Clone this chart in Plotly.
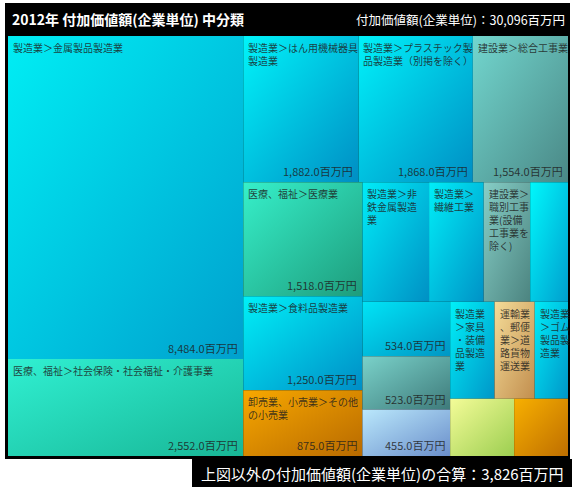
import plotly.graph_objects as go

# 2012年 付加価値額(企業単位) 中分類 — 上位20分類（百万円）
names = [
    "製造業＞金属製品製造業",
    "医療、福祉＞社会保険・社会福祉・介護事業",
    "製造業＞はん用機械器具<br>製造業",
    "製造業＞プラスチック製<br>品製造業（別掲を除く）",
    "建設業＞総合工事業",
    "医療、福祉＞医療業",
    "製造業＞食料品製造業",
    "卸売業、小売業＞その他<br>の小売業",
    "製造業＞非<br>鉄金属製造<br>業",
    "製造業＞<br>繊維工業",
    "建設業＞<br>職別工事<br>業(設備<br>工事業を<br>除く)",
    "",
    "",
    "",
    "",
    "製造業<br>＞家具<br>・装備<br>品製造<br>業",
    "運輸業<br>、郵便<br>業＞道<br>路貨物<br>運送業",
    "製造業<br>＞ゴム<br>製品製<br>造業",
    "",
    "",
]
values = [8484, 2552, 1882, 1868, 1554, 1518, 1250, 875,
          890, 730, 620, 505, 534, 523, 455, 480, 435, 360, 410, 345]
grand_total = 30096

# light (top-left) / dark (bottom-right) colour of each tile
light = ["#00EEF4", "#30F0D2", "#00F4FA", "#00F2FA", "#72D6CE", "#36F0CA",
         "#00F0F8", "#F8A800", "#00ECF8", "#00EEF8", "#86CEC6", "#00F8FC",
         "#00E4F6", "#7AD2CA", "#BAE8FC", "#00F0F8", "#F4DC98", "#00ECF8",
         "#F4FC98", "#F8B000"]
dark = ["#00A0CE", "#18B696", "#008EC4", "#008EC4", "#4A8886", "#1E9C7C",
        "#008EC6", "#B86A00", "#0090C4", "#0092C6", "#4C8480", "#009ECE",
        "#0096C4", "#3E7A7A", "#6A8ECA", "#0096C8", "#C28E4E", "#0096C8",
        "#9CCE50", "#BE6E00"]

# number of tiles laid along each strip of the squarified layout
strip_sizes = [2, 3, 3, 4, 3, 3, 1, 1]

W, H = 572, 487
AREA = (8, 36, 568, 456)  # x0, y0, x1, y1 of the tiled region
FONT = "Noto Sans CJK JP"


def layout_strips(vals, sizes, x0, y0, x1, y1):
    rects = []
    remaining = float(sum(vals))
    i = 0
    for n in sizes:
        group = vals[i:i + n]
        s = float(sum(group))
        dx, dy = x1 - x0, y1 - y0
        if dx < dy:  # row across the top edge
            h = dy * s / remaining
            cx = x0
            for v in group:
                w = dx * v / s
                rects.append((cx, y0, cx + w, y0 + h))
                cx += w
            y0 += h
        else:  # column down the left edge
            w = dx * s / remaining
            cy = y0
            for v in group:
                h = dy * v / s
                rects.append((x0, cy, x0 + w, cy + h))
                cy += h
            x0 += w
        remaining -= s
        i += n
    return rects


rects = layout_strips(values, strip_sizes, *AREA)

fig = go.Figure()
annotations = []
for name, v, c0, c1, (x0, y0, x1, y1) in zip(names, values, light, dark, rects):
    fig.add_trace(go.Scatter(
        x=[x0, x1, x1, x0, x0], y=[y0, y0, y1, y1, y0],
        mode="lines", fill="toself",
        fillgradient=dict(type="horizontal", colorscale=[[0, c1], [1, c0]]),
        line=dict(width=0),
        hoverinfo="text",
        text=f"{name.replace('<br>', '')} {v:,.1f}百万円",
        showlegend=False,
    ))
    if name:
        annotations.append(dict(
            x=x0 + 3, y=y0 + 2, xref="x", yref="y",
            xanchor="left", yanchor="top", align="left",
            text=name, showarrow=False,
            font=dict(family=FONT, size=10, color="rgba(30,30,30,0.85)"),
        ))
    if (x1 - x0) >= 72 and (y1 - y0) >= 30:
        annotations.append(dict(
            x=x1 - 3, y=y1 - 1, xref="x", yref="y",
            xanchor="right", yanchor="bottom",
            text=f"{v:,.1f}百万円", showarrow=False,
            font=dict(family=FONT, size=11, color="rgba(30,30,30,0.85)"),
        ))

others = grand_total - sum(values)

annotations += [
    dict(x=10, y=19, xref="x", yref="y", xanchor="left", yanchor="middle",
         text="<b>2012年 付加価値額(企業単位) 中分類</b>", showarrow=False,
         font=dict(family=FONT, size=14, color="white")),
    dict(x=567, y=19, xref="x", yref="y", xanchor="right", yanchor="middle",
         text=f"付加価値額(企業単位)：{grand_total:,}百万円", showarrow=False,
         font=dict(family=FONT, size=12.5, color="white")),
    dict(x=566, y=473, xref="x", yref="y", xanchor="right", yanchor="middle",
         text=f"上図以外の付加価値額(企業単位)の合算：{others:,}百万円", showarrow=False,
         font=dict(family=FONT, size=15, color="white")),
]

shapes = [
    dict(type="rect", xref="x", yref="y", x0=5, y0=3, x1=570, y1=459,
         fillcolor="black", line=dict(width=0), layer="below"),
    dict(type="rect", xref="x", yref="y", x0=192, y0=459, x1=572, y1=487,
         fillcolor="black", line=dict(width=0), layer="below"),
]

fig.update_layout(
    width=W, height=H,
    margin=dict(l=0, r=0, t=0, b=0),
    paper_bgcolor="white", plot_bgcolor="white",
    xaxis=dict(range=[0, W], visible=False, fixedrange=True),
    yaxis=dict(range=[H, 0], visible=False, fixedrange=True),
    annotations=annotations, shapes=shapes,
    showlegend=False,
)

# turn each tile's gradient into a top-left to bottom-right diagonal
diagonal_js = """
document.querySelectorAll('linearGradient').forEach(function(g){
  g.setAttribute('gradientUnits', 'objectBoundingBox');
  g.setAttribute('x1', '0'); g.setAttribute('y1', '0');
  g.setAttribute('x2', '1'); g.setAttribute('y2', '1');
});
"""

fig.write_html("out.html", post_script=diagonal_js)
